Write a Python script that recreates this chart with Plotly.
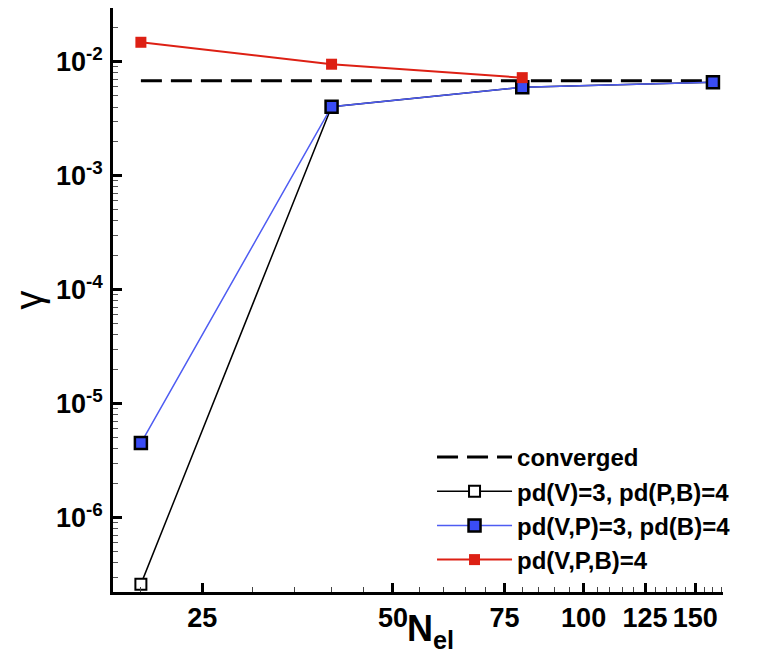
import plotly.graph_objects as go

# ---- data ----
n_el = [20, 40, 80, 160]
converged_x = [20, 160]
converged_y = [0.0068, 0.0068]
gamma_v3_pb4 = [2.6e-7, 0.00403, 0.00596, 0.0066]
gamma_vp3_b4 = [4.5e-6, 0.00403, 0.00596, 0.0066]
gamma_vpb4 = [0.0148, 0.0095, 0.00724]
x_tickvals = [25, 50, 75, 100, 125, 150]
x_ticktext = ["25", "50", "75", "100", "125", "150"]
y_tickvals = [1e-2, 1e-3, 1e-4, 1e-5, 1e-6]
y_ticktext = ["10<sup>-2</sup>", "10<sup>-3</sup>", "10<sup>-4</sup>", "10<sup>-5</sup>", "10<sup>-6</sup>"]

x_minor = [v for v in range(20, 170, 5) if v not in x_tickvals]
y_minor = [m * 10.0 ** d for d in range(-7, -1) for m in range(2, 10)]

FONT = "Liberation Sans, Arial, Helvetica, sans-serif"

fig = go.Figure()
fig.add_trace(go.Scatter(
    x=converged_x, y=converged_y, mode="lines", name="converged",
    line=dict(color="black", width=3, dash="21px,9px")))
fig.add_trace(go.Scatter(
    x=n_el, y=gamma_v3_pb4, mode="lines+markers", name="pd(V)=3, pd(P,B)=4",
    line=dict(color="black", width=1.5),
    marker=dict(symbol="square", size=11, color="white", line=dict(color="black", width=2))))
fig.add_trace(go.Scatter(
    x=n_el, y=gamma_vp3_b4, mode="lines+markers", name="pd(V,P)=3, pd(B)=4",
    line=dict(color="#4e5cf2", width=1.5),
    marker=dict(symbol="square", size=12, color="#3a4cf5", line=dict(color="black", width=2.5))))
fig.add_trace(go.Scatter(
    x=n_el[:3], y=gamma_vpb4, mode="lines+markers", name="pd(V,P,B)=4",
    line=dict(color="#dd2014", width=2),
    marker=dict(symbol="square", size=11, color="#dd2014", line=dict(width=0))))

fig.update_layout(
    width=756, height=654,
    margin=dict(l=105, r=41, t=0, b=70),
    plot_bgcolor="white", paper_bgcolor="white",
    font=dict(family=FONT, color="black"),
    showlegend=True,
    legend=dict(
        x=0.523, y=0.269, xanchor="left", yanchor="top",
        bgcolor="rgba(255,255,255,0)",
        font=dict(family=FONT, size=24, color="black", weight="bold"),
        itemwidth=75, tracegroupgap=0),
    xaxis=dict(
        type="log", range=[1.257, 2.220],
        showline=True, linecolor="black", linewidth=2.5, mirror=False,
        showgrid=False, zeroline=False,
        ticks="inside", ticklen=9, tickwidth=2.5, tickcolor="black",
        tickmode="array", tickvals=x_tickvals, ticktext=x_ticktext,
        tickangle=0,
        tickfont=dict(family=FONT, size=27, color="black", weight="bold"),
        minor=dict(tickmode="array", tickvals=x_minor, ticks="inside",
                   ticklen=5, tickwidth=1, tickcolor="#444", showgrid=False),
    ),
    yaxis=dict(
        type="log", range=[-6.654, -1.529],
        showline=True, linecolor="black", linewidth=2.5, mirror=False,
        showgrid=False, zeroline=False,
        ticks="inside", ticklen=9, tickwidth=2.5, tickcolor="black",
        tickmode="array", tickvals=y_tickvals, ticktext=y_ticktext,
        tickfont=dict(family=FONT, size=27, color="black", weight="bold"),
        ticklabelstandoff=2,
        minor=dict(tickmode="array", tickvals=y_minor, ticks="inside",
                   ticklen=5, tickwidth=1, tickcolor="#555", showgrid=False),
        title=dict(text="γ", standoff=12,
                   font=dict(family=FONT, size=38, color="black")),
    ),
    annotations=[dict(
        text="N<sub>el</sub>", xref="paper", yref="paper",
        x=0.521, y=0, xanchor="center", yanchor="top", yshift=-14,
        showarrow=False,
        font=dict(family=FONT, size=36, color="black", weight="bold"))],
)

fig.write_html("out.html")
